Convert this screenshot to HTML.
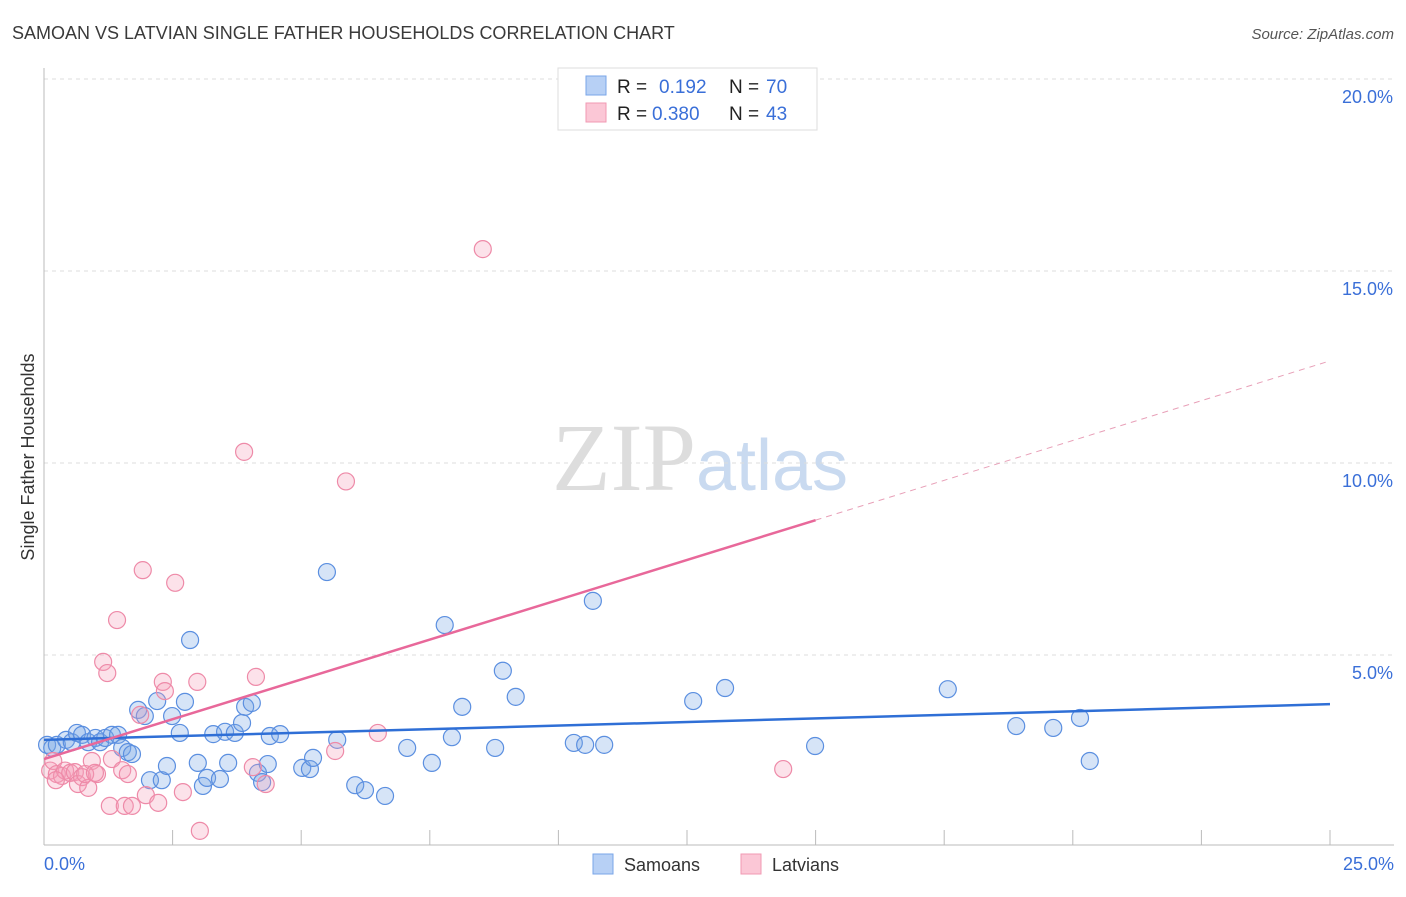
<!DOCTYPE html>
<html><head><meta charset="utf-8"><style>
body{margin:0;background:#fff;font-family:"Liberation Sans",sans-serif}
</style></head><body>
<svg width="1406" height="892" xmlns="http://www.w3.org/2000/svg">
<text x="12" y="39" font-size="18" fill="#3a3a3a">SAMOAN VS LATVIAN SINGLE FATHER HOUSEHOLDS CORRELATION CHART</text>
<text x="1394" y="39" font-size="15" fill="#555" font-style="italic" text-anchor="end">Source: ZipAtlas.com</text>
<text x="700" y="490" font-size="96" fill="#ddd" text-anchor="middle" font-family="Liberation Serif,serif">ZIP<tspan fill="#c9daf0" font-family="Liberation Sans,sans-serif" font-size="72">atlas</tspan></text>
<g id="grid"></g>
<g id="axes"></g>
<g id="pts"></g>
<g id="lines"></g>
<text transform="translate(34,457) rotate(-90)" font-size="18" fill="#333" text-anchor="middle">Single Father Households</text>
<text x="44" y="870" font-size="18" fill="#3a6fd8">0.0%</text>
<text x="1394" y="870" font-size="18" fill="#3a6fd8" text-anchor="end">25.0%</text>
<g>
<rect x="558" y="68" width="259" height="62" fill="#fff" stroke="#ddd"/>
<rect x="586" y="76" width="20" height="19" fill="#b7d0f5" stroke="#7aa6e8"/>
<rect x="586" y="103" width="20" height="19" fill="#fbc7d6" stroke="#f09ab3"/>
<text x="617" y="93" font-size="19" fill="#222">R =</text>
<text x="659" y="93" font-size="19" fill="#3a6fd8">0.192</text>
<text x="729" y="93" font-size="19" fill="#222">N =</text>
<text x="766" y="93" font-size="19" fill="#3a6fd8">70</text>
<text x="617" y="120" font-size="19" fill="#222">R =</text>
<text x="652" y="120" font-size="19" fill="#3a6fd8">0.380</text>
<text x="729" y="120" font-size="19" fill="#222">N =</text>
<text x="766" y="120" font-size="19" fill="#3a6fd8">43</text>
</g>
<g>
<rect x="593" y="854" width="20" height="20" fill="#b7d0f5" stroke="#7aa6e8"/>
<text x="624" y="871" font-size="18" fill="#333">Samoans</text>
<rect x="741" y="854" width="20" height="20" fill="#fbc7d6" stroke="#f09ab3"/>
<text x="772" y="871" font-size="18" fill="#333">Latvians</text>
</g>
</svg>
<script>
const yTicks=[5,10,15,20];
const yTickLabels=["5.0%","10.0%","15.0%","20.0%"];
const xTicks=[2.5,5,7.5,10,12.5,15,17.5,20,22.5,25];
const samoansX=[0.06,0.16,0.25,0.43,0.54,0.64,0.74,0.86,1.0,1.09,1.19,1.32,1.44,1.52,1.63,1.71,1.83,1.96,2.06,2.2,2.29,2.39,2.49,2.64,2.74,2.84,2.99,3.09,3.17,3.29,3.42,3.52,3.58,3.71,3.85,3.91,4.04,4.16,4.24,4.35,4.39,4.59,5.02,5.17,5.23,5.5,5.7,6.05,6.24,6.63,7.06,7.54,7.79,7.93,8.13,8.77,8.92,9.17,10.3,10.52,10.67,10.89,12.62,13.24,14.99,17.57,18.9,19.62,20.14,20.33];
const samoansY=[2.66,2.58,2.66,2.79,2.73,2.97,2.92,2.73,2.84,2.73,2.84,2.92,2.92,2.58,2.47,2.42,3.57,3.41,1.74,3.8,1.74,2.11,3.41,2.97,3.78,5.39,2.19,1.59,1.8,2.94,1.77,3.0,2.19,2.97,3.23,3.65,3.75,1.93,1.69,2.16,2.89,2.94,2.06,2.03,2.32,7.16,2.79,1.61,1.48,1.33,2.58,2.19,5.78,2.86,3.65,2.58,4.59,3.91,2.71,2.66,6.41,2.66,3.8,4.14,2.63,4.11,3.15,3.1,3.36,2.24];
const latviansX=[0.12,0.18,0.25,0.35,0.41,0.51,0.6,0.66,0.74,0.86,0.93,1.03,1.15,1.23,1.28,1.32,1.42,1.52,1.57,1.63,1.71,1.87,1.92,1.98,2.22,2.31,2.35,2.55,2.7,2.98,3.03,3.89,4.06,4.12,4.31,5.66,5.87,6.49,8.53,14.37,0.23,0.8,0.99];
const latviansY=[1.99,2.24,1.9,1.85,1.99,1.93,1.95,1.64,1.82,1.54,2.24,1.9,4.82,4.53,1.07,2.29,5.91,2.0,1.07,1.9,1.07,3.44,7.21,1.35,1.15,4.3,4.06,6.88,1.43,4.3,0.42,10.29,2.08,4.43,1.64,2.5,9.52,2.97,15.57,2.03,1.74,1.9,1.93];
const blueLine=[2.79,3.72];
const pinkLine=[2.29,12.66];
const pinkSolidEnd=15;
const NS="http://www.w3.org/2000/svg";
const X=v=>44+v*51.44, Y=v=>847-v*38.4;
function mk(t,a,p){const e=document.createElementNS(NS,t);for(const k in a)e.setAttribute(k,a[k]);document.getElementById(p).appendChild(e);return e;}
yTicks.forEach((t,i)=>{
 const l=mk('line',{x1:44,x2:1394,y1:Y(t),y2:Y(t),stroke:'#ddd','stroke-dasharray':'4,4'},'grid');
 
 
 const tx=mk('text',{x:1393,y:Y(t)+24,'font-size':18,fill:'#3a6fd8','text-anchor':'end'},'axes');
 tx.textContent=yTickLabels[i];
 
 
});
const ax=mk('line',{x1:44,x2:44,y1:68,y2:845,stroke:'#bbb'},'axes');


const bx=mk('line',{x1:44,x2:1394,y1:845,y2:845,stroke:'#bbb'},'axes');


xTicks.forEach(t=>{
 const l=mk('line',{x1:X(t),x2:X(t),y1:830,y2:845,stroke:'#bbb'},'axes');
 
 
});
samoansX.forEach((x,i)=>{
 const c=mk('circle',{cx:X(x),cy:Y(samoansY[i]),r:8.5,fill:'rgba(120,165,230,0.3)',stroke:'#5b8fe0','stroke-width':1.2},'pts');
 
 
});
latviansX.forEach((x,i)=>{
 const c=mk('circle',{cx:X(x),cy:Y(latviansY[i]),r:8.5,fill:'rgba(245,160,185,0.3)',stroke:'#ee8aa8','stroke-width':1.2},'pts');
 
 
});
const bl=mk('line',{x1:X(0),y1:Y(blueLine[0]),x2:X(25),y2:Y(blueLine[1]),stroke:'#2f6fd6','stroke-width':2.5},'lines');


const pm=pinkLine[0]+(pinkLine[1]-pinkLine[0])*pinkSolidEnd/25;
const pl=mk('line',{x1:X(0),y1:Y(pinkLine[0]),x2:X(pinkSolidEnd),y2:Y(pm),stroke:'#e8689a','stroke-width':2.5},'lines');


const pd=mk('line',{x1:X(pinkSolidEnd),y1:Y(pm),x2:X(25),y2:Y(pinkLine[1]),stroke:'#e8a0b8','stroke-width':1,'stroke-dasharray':'6,5'},'lines');


</script>
</body></html>
